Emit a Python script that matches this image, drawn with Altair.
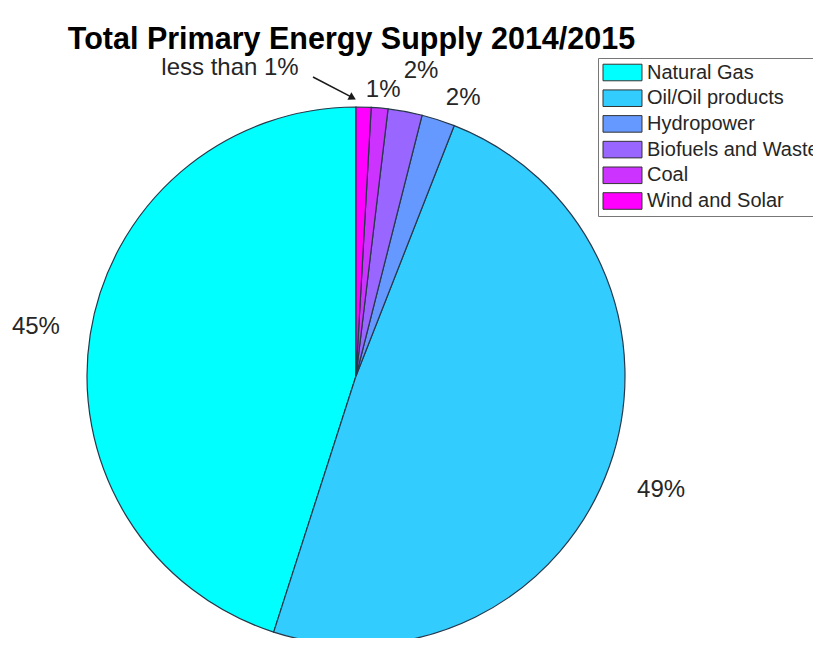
import math
import altair as alt
import pandas as pd

# ---- data (legend order) ----
categories = ["Natural Gas", "Oil/Oil products", "Hydropower",
              "Biofuels and Waste", "Coal", "Wind and Solar"]
shares = [45.05, 49.0, 2.0, 2.05, 1.0, 0.9]
labels = ["45%", "49%", "2%", "2%", "1%", ""]
colors = ["#00FFFF", "#33CCFF", "#6699FF", "#9966FF", "#CC33FF", "#FF00FF"]
title_text = "Total Primary Energy Supply 2014/2015"
note_text = "less than 1%"

FONT = "Liberation Sans"
TXT = "#262626"

df = pd.DataFrame({
    "cat": categories,
    "share": shares,
    "lab": labels,
    "idx": list(range(len(categories))),
})

base = (
    alt.Chart(df)
    .transform_stack(stack="share", groupby=[], as_=["s0", "s1"],
                     sort=[alt.SortField("idx", order="descending")])
    .transform_calculate(mid="(datum.s0 + datum.s1) / 2")
)

theta_scale = alt.Scale(domain=[0, 100], range=[0, 2 * math.pi])

pie = base.mark_arc(radius=269, stroke="#27384a", strokeWidth=1.2).encode(
    theta=alt.Theta("s0:Q", scale=theta_scale, stack=None),
    theta2="s1:Q",
    color=alt.Color(
        "cat:N",
        scale=alt.Scale(domain=categories, range=colors),
        legend=alt.Legend(
            title=None, orient="none", legendX=590, legendY=-56,
            symbolType="M-2,-0.85H2V0.85H-2Z", symbolSize=380,
            symbolStrokeColor="#333333", symbolStrokeWidth=1,
            symbolOpacity=1,
            labelFont=FONT, labelFontSize=20, labelColor=TXT,
            labelLimit=400,
            strokeColor="#777777", fillColor="white", padding=4,
            rowPadding=4.7, labelOffset=14, symbolOffset=10,
        ),
    ),
)

# label placement: (radius, dx, dy) per category
label_pos = {
    "Natural Gas": (324, 0, 1),
    "Oil/Oil products": (326, -2, 5),
    "Coal": (287, 2, 0),
    "Biofuels and Waste": (312, 8, 2),
    "Hydropower": (298, 16, 6),
}

text_layers = []
for cat, (r, dx, dy) in label_pos.items():
    text_layers.append(
        base.transform_filter(alt.datum.cat == cat)
        .mark_text(radius=r, dx=dx, dy=dy, font=FONT, fontSize=24,
                   color=TXT, align="center", baseline="middle")
        .encode(theta=alt.Theta("mid:Q", scale=theta_scale, stack=None),
                text="lab:N")
    )

note_df = pd.DataFrame({"t": [note_text]})
note = alt.Chart(note_df).mark_text(
    font=FONT, fontSize=24, color=TXT, align="center", baseline="middle"
).encode(x=alt.value(222), y=alt.value(-46), text="t:N")

arrow_line = alt.Chart(note_df).mark_rule(color="#1a1a1a", strokeWidth=1.5).encode(
    x=alt.value(305), y=alt.value(-37), x2=alt.value(344.6), y2=alt.value(-16.3)
)
arrow_head = alt.Chart(note_df).mark_point(
    shape="triangle-right", size=70, angle=27.6, filled=True,
    color="#1a1a1a", opacity=1
).encode(x=alt.value(344.6), y=alt.value(-16.3))

title_df = pd.DataFrame({"t": [title_text]})
title = alt.Chart(title_df).mark_text(
    font=FONT, fontSize=30.5, fontWeight="bold", color="black",
    align="center", baseline="alphabetic"
).encode(x=alt.value(343.5), y=alt.value(-65), text="t:N")

chart = alt.layer(pie, *text_layers, note, arrow_line, arrow_head, title).properties(
    width=696,
    height=524,
    autosize=alt.AutoSizeParams(type="none"),
    padding={"left": 0, "top": 106, "right": 109, "bottom": 0},
).configure_view(stroke=None)

chart.save("out.html", embed_options={"renderer": "svg", "actions": False})
